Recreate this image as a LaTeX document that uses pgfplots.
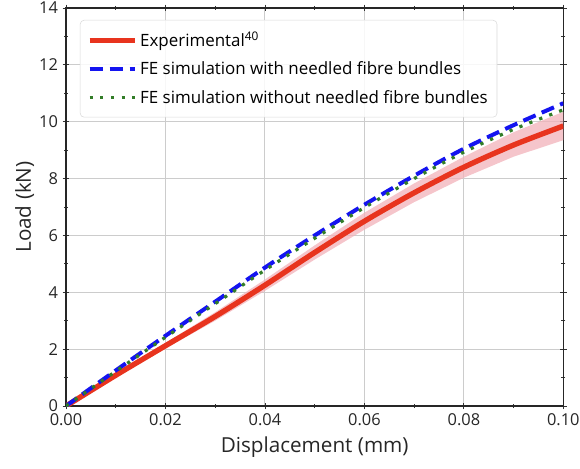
\documentclass[border=0pt]{standalone}
\usepackage{pgfplots}
\pgfplotsset{compat=1.18}
\usepackage{fontspec}
\setmainfont{Open Sans}
\usepgfplotslibrary{fillbetween}
\definecolor{expred}{RGB}{232,52,30}
\definecolor{simblue}{RGB}{20,20,240}
\definecolor{simgreen}{RGB}{50,125,40}
\definecolor{bandpink}{RGB}{242,178,185}
\begin{document}
\begin{tikzpicture}
\begin{axis}[
  at={(0,0)}, anchor=south west,
  scale only axis, width=373pt, height=298.5pt,
  xmin=0, xmax=0.1, ymin=0, ymax=14,
  xtick={0,0.02,0.04,0.06,0.08,0.1},
  minor xtick={0.01,0.03,0.05,0.07,0.09},
  ytick={0,2,4,6,8,10,12,14},
  minor ytick={1,3,5,7,9,11,13},
  xticklabel style={/pgf/number format/.cd,fixed,fixed zerofill,precision=2},
  scaled x ticks=false,
  /pgf/number format/assume math mode=true,
  tick label style={font=\fontsize{12.3}{14}\selectfont, text=black!85},
  label style={font=\fontsize{15.5}{18}\selectfont, text=black!85},
  xlabel={Displacement (mm)}, ylabel={Load (kN)},
  xlabel style={yshift=-1pt},
  ylabel style={yshift=-3pt},
  tick align=center,
  major tick length=5pt, minor tick length=3pt,
  tick style={black!80, line width=0.6pt},
  axis line style={black!85, line width=0.8pt},
  grid=major, major grid style={black!20, line width=0.7pt},
  legend style={at={(0.028,0.97)}, anchor=north west, draw=black!15, rounded corners=3pt, fill=white, fill opacity=0.85, text opacity=1, font=\fontsize{12.7}{15}\selectfont, row sep=6pt, inner xsep=5pt, inner ysep=7pt},
  legend cell align=left,
  legend image code/.code={\draw[#1] (0pt,0pt) -- (34pt,0pt);},
]
\addplot[name path=up, draw=none, forget plot] coordinates {(0,0) (0.01,1.13) (0.02,2.22) (0.03,3.30) (0.04,4.45) (0.05,5.65) (0.06,6.80) (0.07,7.83) (0.08,8.77) (0.09,9.63) (0.10,10.35)};
\addplot[name path=lo, draw=none, forget plot] coordinates {(0,0) (0.01,1.03) (0.02,2.02) (0.03,3.00) (0.04,4.05) (0.05,5.15) (0.06,6.20) (0.07,7.17) (0.08,8.03) (0.09,8.77) (0.10,9.35)};
\addplot[bandpink, fill opacity=0.75, forget plot] fill between[of=up and lo];
\addplot[expred, line width=4pt, smooth] coordinates {(0,0) (0.01,1.08) (0.02,2.12) (0.03,3.15) (0.04,4.25) (0.05,5.40) (0.06,6.50) (0.07,7.50) (0.08,8.40) (0.09,9.18) (0.10,9.85)};
\addlegendentry{Experimental\textsuperscript{40}}
\addplot[simblue, line width=3pt, dash pattern=on 10pt off 5pt, smooth] coordinates {(0,0) (0.01,1.25) (0.02,2.47) (0.03,3.67) (0.04,4.87) (0.05,6.00) (0.06,7.08) (0.07,8.10) (0.08,9.05) (0.09,9.88) (0.10,10.65)};
\addlegendentry{FE simulation with needled fibre bundles}
\addplot[simgreen, line width=2.4pt, dash pattern=on 2.4pt off 5.6pt, smooth] coordinates {(0,0) (0.01,1.22) (0.02,2.42) (0.03,3.60) (0.04,4.78) (0.05,5.90) (0.06,6.98) (0.07,8.00) (0.08,8.93) (0.09,9.73) (0.10,10.42)};
\addlegendentry{FE simulation without needled fibre bundles}
\end{axis}
\pgfresetboundingbox
\path[use as bounding box] (-49.5pt,-46.5pt) rectangle (385.5pt,304.5pt);
\end{tikzpicture}
\end{document}
